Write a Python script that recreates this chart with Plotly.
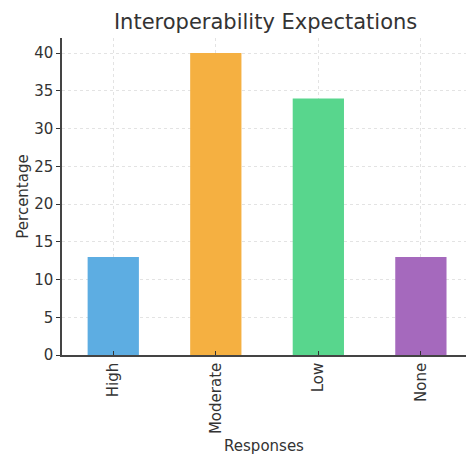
import plotly.graph_objects as go

categories = ["High", "Moderate", "Low", "None"]
values = [13, 40, 34, 13]
colors = ["#5DADE2", "#F5B041", "#58D68D", "#A569BD"]
y_ticks = [0, 5, 10, 15, 20, 25, 30, 35, 40]

fig = go.Figure(go.Bar(x=categories, y=values, marker=dict(color=colors, line=dict(width=0)), width=0.5))

font = "DejaVu Sans"
fig.update_layout(
    width=466, height=455,
    margin=dict(l=62, r=0, t=38, b=100),
    paper_bgcolor="white", plot_bgcolor="white",
    font=dict(family=font, color="#333333", size=15),
    title=dict(text="Interoperability Expectations", x=0.57, xanchor="center", y=0.952, yanchor="middle",
               font=dict(family=font, size=21, color="#333333")),
    showlegend=False,
)
fig.update_xaxes(
    range=[-0.5, 3.44],
    title=dict(text="Responses", font=dict(size=15), standoff=8),
    tickangle=-90, tickfont=dict(size=15),
    showgrid=True, gridcolor="#e3e3e3", griddash="dot", gridwidth=1,
    showline=True, linecolor="#444444", linewidth=1.5,
    ticks="inside", ticklen=4, tickcolor="#333333",
    automargin=False,
)
fig.update_yaxes(
    range=[0, 42],
    tickvals=y_ticks, tickfont=dict(size=15),
    title=dict(text="Percentage", font=dict(size=15), standoff=2),
    showgrid=True, gridcolor="#e3e3e3", griddash="dot", gridwidth=1,
    showline=True, linecolor="#444444", linewidth=1.5,
    ticks="outside", ticklen=4, tickcolor="#333333",
    zeroline=False, automargin=False,
)
fig.write_html("out.html", config={"displayModeBar": False},
               post_script="document.body.style.margin='0';document.body.style.overflow='hidden';")
